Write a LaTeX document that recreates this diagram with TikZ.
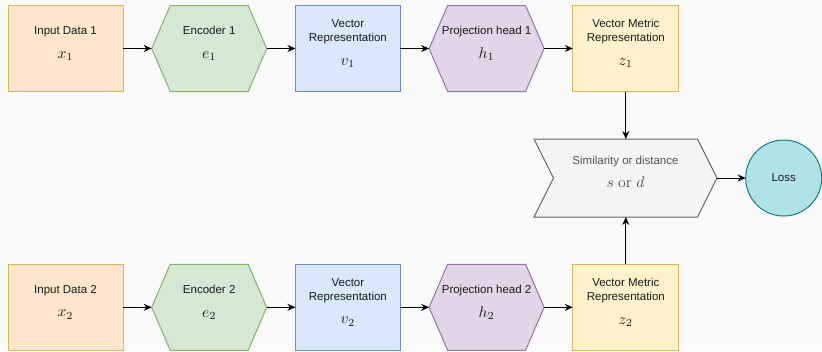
\documentclass[tikz,border=0pt]{standalone}
\usepackage[no-math]{fontspec}
\setmainfont{Liberation Sans}
\usepackage{amsmath}
\usepackage{graphicx}
\usetikzlibrary{positioning, arrows.meta, shapes.symbols}

\definecolor{bgcol}{HTML}{FAFAFA}
\definecolor{peachfill}{HTML}{FFE6CC}
\definecolor{goldline}{HTML}{D6B656}
\definecolor{greenfill}{HTML}{D5E8D4}
\definecolor{greenline}{HTML}{82B366}
\definecolor{bluefill}{HTML}{DAE8FC}
\definecolor{blueline}{HTML}{6C8EBF}
\definecolor{purplefill}{HTML}{E1D5E7}
\definecolor{purpleline}{HTML}{9673A6}
\definecolor{yellowfill}{HTML}{FFF2CC}
\definecolor{grayfill}{HTML}{F5F5F5}
\definecolor{grayline}{HTML}{666666}
\definecolor{tealfill}{HTML}{B0E3E6}
\definecolor{tealline}{HTML}{0E8088}
\definecolor{textgray}{HTML}{1A1A1A}

\newcommand{\mth}[1]{{\fontsize{10}{12}\selectfont\scalebox{1.55}{$#1$}}}

\begin{document}
\begin{tikzpicture}
        [
            x=1pt, y=-1pt,
            node distance=28.7pt,
            box/.style={rectangle, minimum height=86pt, line width=1pt, outer sep=0pt},
            hexa/.style={signal, signal to=west and east, signal pointer angle=133.4,
                minimum width=115pt, minimum height=86pt, line width=1pt, outer sep=0pt},
            datab/.style={box, draw=goldline, fill=peachfill, minimum width=115pt},
            vecb/.style={box, draw=blueline, fill=bluefill, minimum width=105pt},
            metb/.style={box, draw=goldline, fill=yellowfill, minimum width=106pt},
            encb/.style={hexa, draw=greenline, fill=greenfill},
            projb/.style={hexa, draw=purpleline, fill=purplefill},
            simb/.style={signal, signal from=west, signal to=east, signal pointer angle=126.9,
                minimum width=183pt, minimum height=78pt, line width=1pt, outer sep=0pt,
                draw=grayline, fill=grayfill},
            lossb/.style={circle, minimum size=76pt, line width=1pt, outer sep=0pt,
                draw=tealline, fill=tealfill,
                font=\fontsize{11.5}{14}\selectfont, text=textgray},
            txt/.style={align=center, font=\fontsize{11.5}{14}\selectfont, text=textgray},
            flow/.style={-{Stealth[length=8pt, width=7pt]}, line width=1pt, black},
        ]
        \fill[bgcol] (0,0) rectangle (822,351);
        \useasboundingbox (0,0) rectangle (822,351);

        % first branch
        \node[datab] (in1) at (65.5,48.5) {};
        \node[encb, right=of in1] (enc1) {};
        \node[vecb, right=of enc1] (vec1) {};
        \node[projb, right=of vec1] (proj1) {};
        \node[metb, right=of proj1] (met1) {};

        % second branch
        \node[datab] (in2) at (65.5,307.3) {};
        \node[encb, right=of in2] (enc2) {};
        \node[vecb, right=of enc2] (vec2) {};
        \node[projb, right=of vec2] (proj2) {};
        \node[metb, right=of proj2] (met2) {};

        % comparison and loss
        \node[simb] (sim) at (625.5,178) {};
        \node[lossb, right=28.7pt of sim] (loss) {Loss};

        % labels
        \node[txt] (in1t) at ([yshift=5pt]in1.center) {Input Data 1\\[9.5pt]\mth{x_1}};
        \node[txt] (enc1t) at ([yshift=5pt]enc1.center) {Encoder 1\\[9.5pt]\mth{e_1}};
        \node[txt] (vec1t) at ([yshift=5pt]vec1.center) {Vector\\Representation\\[9.5pt]\mth{v_1}};
        \node[txt] (proj1t) at ([yshift=5pt]proj1.center) {Projection head 1\\[9.5pt]\mth{h_1}};
        \node[txt] (met1t) at ([yshift=5pt]met1.center) {Vector Metric\\Representation\\[9.5pt]\mth{z_1}};
        \node[txt] (in2t) at ([yshift=5pt]in2.center) {Input Data 2\\[9.5pt]\mth{x_2}};
        \node[txt] (enc2t) at ([yshift=5pt]enc2.center) {Encoder 2\\[9.5pt]\mth{e_2}};
        \node[txt] (vec2t) at ([yshift=5pt]vec2.center) {Vector\\Representation\\[9.5pt]\mth{v_2}};
        \node[txt] (proj2t) at ([yshift=5pt]proj2.center) {Projection head 2\\[9.5pt]\mth{h_2}};
        \node[txt] (met2t) at ([yshift=5pt]met2.center) {Vector Metric\\Representation\\[9.5pt]\mth{z_2}};
        \node[txt, text=grayline!80!black] (simt) at ([yshift=6pt]sim.center)
            {Similarity or distance\\[9.5pt]\mth{s \mathrm{\ or\ } d}};

        % connectors
        \draw[flow] (in1) -- (enc1);
        \draw[flow] (enc1) -- (vec1);
        \draw[flow] (vec1) -- (proj1);
        \draw[flow] (proj1) -- (met1);
        \draw[flow] (in2) -- (enc2);
        \draw[flow] (enc2) -- (vec2);
        \draw[flow] (vec2) -- (proj2);
        \draw[flow] (proj2) -- (met2);
        \draw[flow] (met1.south) -- (met1.south |- sim.north);
        \draw[flow] (met2.north) -- (met2.north |- sim.south);
        \draw[flow] (sim.east) -- (loss);
    \end{tikzpicture}
\end{document}
